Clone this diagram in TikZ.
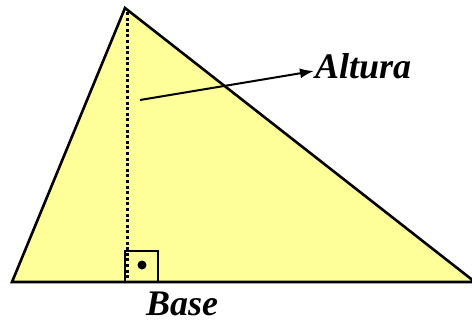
\documentclass[tikz,border=0pt]{standalone}
\usepackage{fontspec}
\setmainfont{Liberation Serif}
\usetikzlibrary{arrows.meta}
\definecolor{triyellow}{RGB}{255,255,153}
\begin{document}
\begin{tikzpicture}[x=1pt,y=-1pt,
  edge/.style={line width=2.6pt,line join=miter},
  heightline/.style={line width=3pt,dash pattern=on 3pt off 2.6pt},
  lbl/.style={font=\fontsize{36}{40}\selectfont\bfseries\itshape,inner sep=0pt,anchor=base west},
  pointer/.style={line width=2pt,-{Latex[length=14pt,width=10pt]}}]
\useasboundingbox (0,0) rectangle (472,322);
\coordinate (A) at (125,8);
\coordinate (L) at (12,282);
\coordinate (R) at (475,282);
\coordinate (F) at (127,282);
\filldraw[fill=triyellow,draw=black,edge] (L) -- (A) -- (R) -- cycle;
\draw[heightline] (127,12) -- (F);
\draw[line width=1.8pt] (125,282) -- (125,251) -- (158,251) -- (158,282);
\fill (142,265) circle (4.5pt);
\draw[edge] (L) -- (R);
\coordinate (S) at (140,100);
\node[lbl] (alt) at (315,78) {Altura};
\coordinate (T) at (314,71);
\draw[pointer] (S) -- (T);
\node[lbl] (base) at (146,315) {Base};
\end{tikzpicture}
\end{document}
